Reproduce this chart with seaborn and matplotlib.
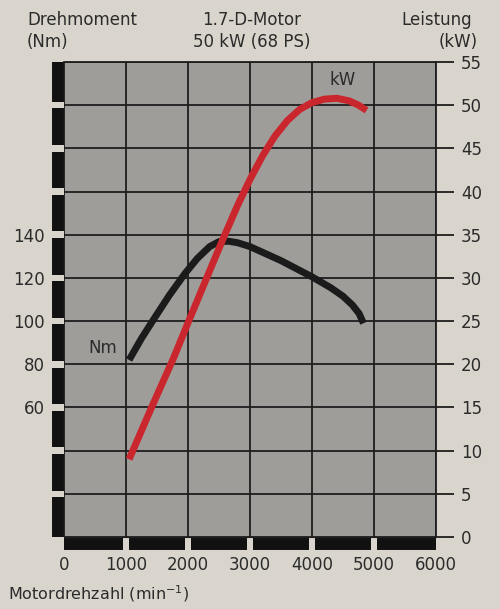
import pandas as pd
import matplotlib.pyplot as plt
import seaborn as sns

# Daten
drehzahl_kw = [1050, 1430, 1760, 2000, 2290, 2570, 2800, 3000, 3200, 3400, 3600,
               3800, 4000, 4200, 4400, 4600, 4750, 4880]
leistung_kw = [9.0, 15.3, 20.6, 24.8, 29.8, 34.6, 38.4, 41.4, 44.1, 46.4, 48.2,
               49.5, 50.3, 50.7, 50.8, 50.5, 50.0, 49.4]

drehzahl_nm = [1050, 1250, 1450, 1700, 1950, 2150, 2350, 2500, 2650, 2800, 3000,
               3500, 4000, 4300, 4500, 4650, 4760, 4830]
drehmoment_nm = [82, 92, 101, 112, 122, 129, 134.5, 136.8, 137, 136.3, 134.5,
                 128, 120.5, 115.5, 111.5, 107.5, 103.5, 99]

x_ticks = [0, 1000, 2000, 3000, 4000, 5000, 6000]
kw_ticks = list(range(0, 60, 5))
nm_ticks = list(range(0, 240, 20))
nm_labels = [60, 80, 100, 120, 140]

# Farben
papier = '#d9d5cc'
flaeche = '#9f9d9a'
text_farbe = '#2b2b2b'
rot = '#c9272d'
schwarz = '#1b1b1b'

sns.set_style('ticks')
plt.rcParams['font.family'] = ['DejaVu Sans']
plt.rcParams['text.color'] = text_farbe

df_kw = pd.DataFrame({'rpm': drehzahl_kw, 'kW': leistung_kw})
df_nm = pd.DataFrame({'rpm': drehzahl_nm, 'Nm': drehmoment_nm})

fig = plt.figure(figsize=(5, 6.09), dpi=100, facecolor=papier)
ax = fig.add_axes([0.128, 0.1182, 0.744, 0.780])
ax.set_facecolor(flaeche)
ax2 = ax.twinx()

# Raster
ax.set_xlim(0, 6000)
ax.set_ylim(0, 220)
ax.set_xticks(x_ticks)
ax.set_yticks(nm_ticks)
ax.set_yticklabels([str(v) if v in nm_labels else '' for v in nm_ticks])
ax.grid(True, color='#1e1e1e', linewidth=1.3)
ax.set_axisbelow(True)
ax.tick_params(axis='x', length=0, pad=14, labelsize=12, labelcolor=text_farbe)
ax.tick_params(axis='y', length=0, pad=14, labelsize=12, labelcolor=text_farbe)
for s in ['left', 'right', 'top']:
    ax.spines[s].set_visible(False)
ax.spines['bottom'].set_color('#1e1e1e')

# Drehmomentkurve
sns.lineplot(data=df_nm, x='rpm', y='Nm', ax=ax, color=schwarz, linewidth=5,
             legend=False, solid_capstyle='butt', solid_joinstyle='round')
ax.set_xlabel('')
ax.set_ylabel('')

# Leistungskurve
ax2.set_ylim(0, 55)
ax2.set_yticks(kw_ticks)
sns.lineplot(data=df_kw, x='rpm', y='kW', ax=ax2, color=rot, linewidth=5,
             legend=False, solid_capstyle='butt', solid_joinstyle='round')
ax2.set_xlabel('')
ax2.set_ylabel('')
ax2.tick_params(axis='y', length=13, width=1.3, color='#1e1e1e', pad=5,
                labelsize=12, labelcolor=text_farbe)
ax2.spines['right'].set_color('#1e1e1e')
ax2.spines['right'].set_linewidth(1.3)
ax2.spines['top'].set_color('#1e1e1e')
ax2.spines['top'].set_linewidth(1.3)
ax2.spines['left'].set_visible(False)
ax2.spines['bottom'].set_visible(False)

# schwarze Balken links und unten
luecke_nm = 1.5
for i in range(len(nm_ticks) - 1):
    y0 = nm_ticks[i] + (0 if i == 0 else luecke_nm)
    y1 = nm_ticks[i + 1] - (0 if i == len(nm_ticks) - 2 else luecke_nm)
    ax.plot([-0.017, -0.017], [y0, y1], color='#111111', linewidth=8.6,
            solid_capstyle='butt', transform=ax.get_yaxis_transform(), clip_on=False)
luecke_x = 56
for i in range(len(x_ticks) - 1):
    x0 = x_ticks[i] + (0 if i == 0 else luecke_x)
    x1 = x_ticks[i + 1] - (0 if i == len(x_ticks) - 2 else luecke_x)
    ax.plot([x0, x1], [-0.015, -0.015], color='#111111', linewidth=8.6,
            solid_capstyle='butt', transform=ax.get_xaxis_transform(), clip_on=False)

# Beschriftungen im Diagramm
ax2.text(4500, 52.9, 'kW', ha='center', va='center', fontsize=12, color=text_farbe)
ax2.text(630, 21.9, 'Nm', ha='center', va='center', fontsize=12, color=text_farbe)

# Kopfzeilen
W, H = 500, 609
fig.text(27 / W, 1 - 20 / H, 'Drehmoment', ha='left', va='center', fontsize=12)
fig.text(27 / W, 1 - 42 / H, '(Nm)', ha='left', va='center', fontsize=12)
fig.text(252 / W, 1 - 20 / H, '1.7-D-Motor', ha='center', va='center', fontsize=12)
fig.text(252 / W, 1 - 42 / H, '50 kW (68 PS)', ha='center', va='center', fontsize=12)
fig.text(472 / W, 1 - 20 / H, 'Leistung', ha='right', va='center', fontsize=12)
fig.text(478 / W, 1 - 42 / H, '(kW)', ha='right', va='center', fontsize=12)
fig.text(8 / W, 1 - 594 / H, r'Motordrehzahl (min$^{-1}$)', ha='left', va='center', fontsize=11.5)

plt.savefig('out.png', dpi=100, facecolor=papier)
